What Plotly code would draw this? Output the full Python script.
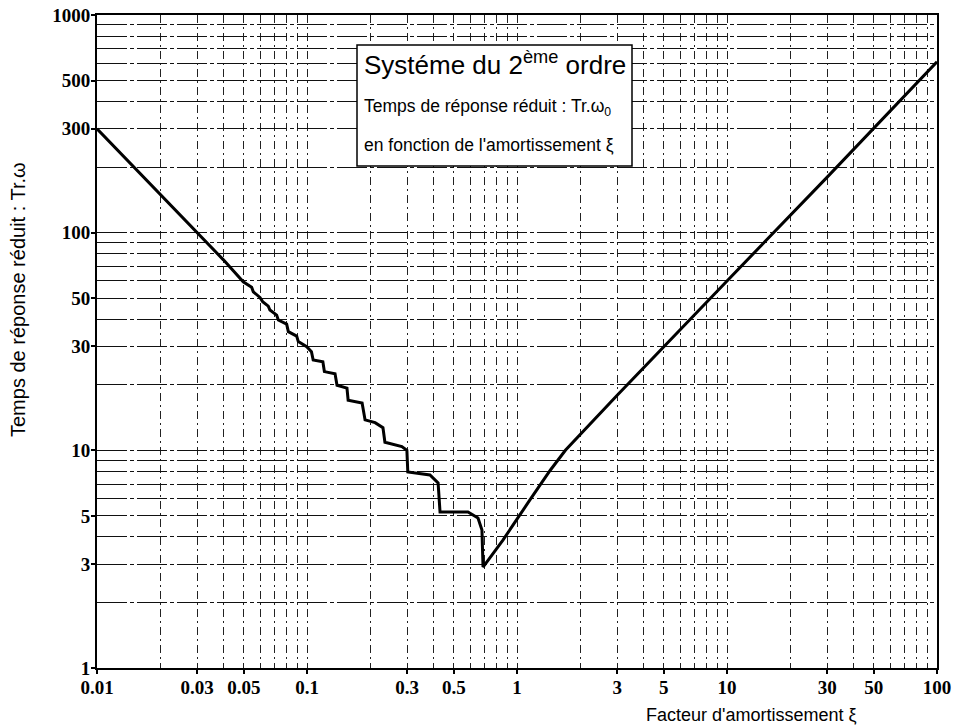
import plotly.graph_objects as go

# Data (damping factor xi, reduced response time Tr.w0)
xi = [0.01, 0.02, 0.03, 0.04, 0.0497, 0.0545, 0.0555, 0.0597, 0.0615, 0.0654,
      0.0666, 0.0717, 0.0730, 0.0800, 0.0815, 0.0893, 0.0909, 0.0997, 0.105,
      0.107, 0.119, 0.121, 0.136, 0.139, 0.155, 0.157, 0.183, 0.189, 0.211,
      0.230, 0.235, 0.283, 0.299, 0.302, 0.385, 0.421, 0.430, 0.584, 0.652,
      0.681, 0.689, 0.857, 1.15, 1.44, 1.7, 3, 10, 30, 100]
tr = [300, 150, 100, 75, 59.5, 56.1, 53.5, 50.4, 48.2, 46.0,
      44.1, 41.8, 39.7, 38.0, 35.1, 33.5, 31.6, 29.9, 28.4,
      26.0, 25.5, 23.0, 22.5, 19.9, 19.3, 17.0, 16.5, 13.8, 13.4,
      12.7, 10.9, 10.4, 10.0, 7.95, 7.7, 7.08, 5.21, 5.21, 4.89,
      4.30, 2.91, 3.87, 5.9, 8.1, 10, 17.9, 60, 180, 610]

x_tick_vals = [0.01, 0.03, 0.05, 0.1, 0.3, 0.5, 1, 3, 5, 10, 30, 50, 100]
x_tick_text = ["0.01", "0.03", "0.05", "0.1", "0.3", "0.5", "1", "3", "5", "10", "30", "50", "100"]
y_tick_vals = [1, 3, 5, 10, 30, 50, 100, 300, 500, 1000]
y_tick_text = ["1", "3", "5", "10", "30", "50", "100", "300", "500", "1000"]

x_grid_vals = [m * 10 ** e for e in (-2, -1, 0, 1) for m in range(1, 10)] + [100]
y_grid_vals = [m * 10 ** e for e in (0, 1, 2) for m in range(1, 10)] + [1000]

W, H = 955, 728
# plot area in pixels: x 97..937, y 15..668
PX0, PX1, PY0, PY1 = 97, 937, 15, 668
L, R, T, B = PX0, W - PX1, PY0, H - PY1

fig = go.Figure()
fig.add_trace(go.Scatter(x=xi, y=tr, mode="lines",
                         line=dict(color="black", width=3), showlegend=False))

tickfont = dict(family="Liberation Serif", size=19, color="black", weight="bold")

fig.update_xaxes(type="log", range=[-2, 2], tickvals=x_tick_vals, ticktext=x_tick_text,
                 tickfont=tickfont, ticks="outside", ticklen=4, tickwidth=2, tickcolor="black",
                 ticklabelstandoff=-3, ticklabeloverflow="allow",
                 showline=True, linecolor="black", linewidth=2, mirror=True,
                 showgrid=True, gridcolor="#222", gridwidth=1, griddash="8px,4px,2px,4px",
                 minor=dict(tickvals=x_grid_vals, showgrid=True, gridcolor="#222",
                            gridwidth=1, griddash="8px,4px,2px,4px", ticks=""),
                 zeroline=False)
fig.update_yaxes(type="log", range=[0, 3], tickvals=y_tick_vals, ticktext=y_tick_text,
                 tickfont=tickfont, ticks="outside", ticklen=4, tickwidth=2, tickcolor="black",
                 ticklabelstandoff=-3, ticklabeloverflow="allow",
                 showline=True, linecolor="black", linewidth=2, mirror=True,
                 showgrid=True, gridcolor="#111", gridwidth=1, griddash="30px,3px,4px,3px",
                 minor=dict(tickvals=y_grid_vals, showgrid=True, gridcolor="#111",
                            gridwidth=1, griddash="30px,3px,4px,3px", ticks=""),
                 zeroline=False)

pw, ph = PX1 - PX0, PY1 - PY0
def px(xs):
    return (xs - PX0) / pw
def py(ys):
    return (PY1 - ys) / ph

fig.add_shape(type="rect", xref="paper", yref="paper",
              x0=px(357), x1=px(632), y0=py(166), y1=py(45),
              fillcolor="white", line=dict(color="black", width=1.5), layer="above")

ann_font = dict(family="Liberation Sans", color="black")
fig.add_annotation(xref="paper", yref="paper", x=px(362), y=py(63), xanchor="left", yanchor="middle",
                   text="Systéme du 2<sup>ème</sup> ordre", showarrow=False,
                   font=dict(size=26, **ann_font))
fig.add_annotation(xref="paper", yref="paper", x=px(362), y=py(107), xanchor="left", yanchor="middle",
                   text="Temps de réponse réduit : Tr.ω<sub>0</sub>", showarrow=False,
                   font=dict(size=17.5, **ann_font))
fig.add_annotation(xref="paper", yref="paper", x=px(362), y=py(145), xanchor="left", yanchor="middle",
                   text="en fonction de l'amortissement ξ", showarrow=False,
                   font=dict(size=17.5, **ann_font))
fig.add_annotation(xref="paper", yref="paper", x=px(751), y=py(715), xanchor="center", yanchor="middle",
                   text="Facteur d'amortissement ξ", showarrow=False,
                   font=dict(size=18, **ann_font))
fig.add_annotation(xref="paper", yref="paper", x=px(18), y=py(300), xanchor="center", yanchor="middle",
                   text="Temps de réponse réduit : Tr.ω", textangle=-90, showarrow=False,
                   font=dict(size=20, **ann_font))

fig.update_layout(width=W, height=H, margin=dict(l=L, r=R, t=T, b=B, autoexpand=False),
                  paper_bgcolor="white", plot_bgcolor="white")

fig.write_html("out.html", config={"displayModeBar": False},
               post_script="document.body.style.margin='0';document.body.style.overflow='hidden';")
